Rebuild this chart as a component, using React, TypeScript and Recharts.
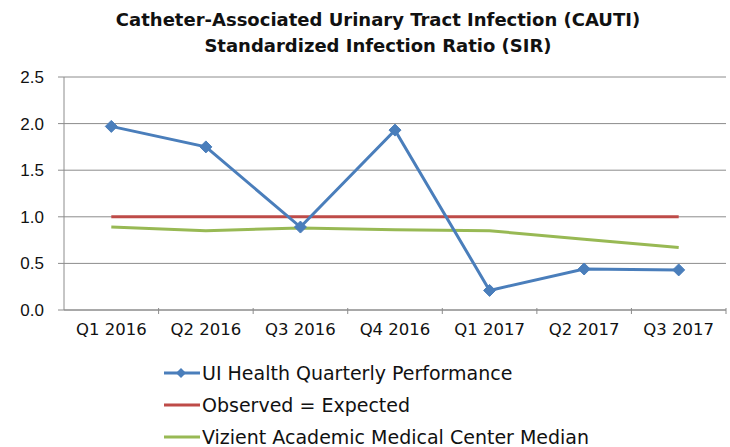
import React from 'react';
import { LineChart, Line, XAxis, YAxis, CartesianGrid } from 'recharts';

const quarters = ['Q1 2016', 'Q2 2016', 'Q3 2016', 'Q4 2016', 'Q1 2017', 'Q2 2017', 'Q3 2017'];
const uiHealth = [1.97, 1.75, 0.89, 1.93, 0.21, 0.44, 0.43];
const expected = [1, 1, 1, 1, 1, 1, 1];
const vizient = [0.89, 0.85, 0.88, 0.86, 0.85, 0.76, 0.67];
const yTicks = [0, 0.5, 1, 1.5, 2, 2.5];

const data = quarters.map((q, i) => ({
  name: q,
  ui: uiHealth[i],
  exp: expected[i],
  viz: vizient[i],
}));

const BLUE = '#4a7ebb';
const RED = '#be4b48';
const GREEN = '#98b954';
const AXIS = '#8c8c8c';
const labelFont = "'DejaVu Sans', sans-serif";
const HALF_BAND = 47.3;

const Diamond = (props: any) => {
  const { cx, cy } = props;
  if (cx == null || cy == null) return null;
  const r = 6;
  return (
    <polygon
      points={`${cx},${cy - r} ${cx + r},${cy} ${cx},${cy + r} ${cx - r},${cy}`}
      fill={BLUE}
      stroke={BLUE}
    />
  );
};

// category label plus a tick mark on the band boundary to its right
const QuarterTick = (props: any) => {
  const { x, y, payload } = props;
  const axisY = y - 10;
  return (
    <g>
      <line x1={x + HALF_BAND} y1={axisY} x2={x + HALF_BAND} y2={axisY + 6} stroke={AXIS} />
      <text x={x} y={y + 17} textAnchor="middle" fill="#111" fontSize={16.5} fontFamily={labelFont}>
        {payload.value}
      </text>
    </g>
  );
};

const legendItems = [
  { label: 'UI Health Quarterly Performance', color: BLUE, marker: true },
  { label: 'Observed = Expected', color: RED, marker: false },
  { label: 'Vizient Academic Medical Center Median', color: GREEN, marker: false },
];

export default function App() {
  return (
    <div style={{ position: 'absolute', left: 0, top: 0, width: 730, height: 447, background: '#fff' }}>
      <div
        style={{
          position: 'absolute',
          left: 0,
          top: 7,
          width: 756,
          textAlign: 'center',
          fontFamily: labelFont,
          fontWeight: 700,
          fontSize: 18,
          lineHeight: '26px',
          color: '#111',
        }}
      >
        Catheter-Associated Urinary Tract Infection (CAUTI)
        <br />
        Standardized Infection Ratio (SIR)
      </div>
      <LineChart width={730} height={447} data={data} margin={{ top: 77, right: 4, left: 0, bottom: 107 }}>
        <CartesianGrid vertical={false} stroke={AXIS} strokeWidth={1} />
        <XAxis
          dataKey="name"
          height={30}
          stroke={AXIS}
          tickLine={false}
          padding={{ left: HALF_BAND, right: HALF_BAND }}
          interval={0}
          tick={<QuarterTick />}
        />
        <YAxis
          width={64}
          domain={[0, 2.5]}
          ticks={yTicks}
          tickFormatter={(v: number) => v.toFixed(1)}
          stroke={AXIS}
          tickSize={6}
          tickMargin={14}
          tick={{ fill: '#111', fontSize: 17, fontFamily: "'Liberation Sans', sans-serif" }}
        />
        <Line dataKey="exp" stroke={RED} strokeWidth={3} dot={false} isAnimationActive={false} />
        <Line dataKey="viz" stroke={GREEN} strokeWidth={3} dot={false} isAnimationActive={false} />
        <Line dataKey="ui" stroke={BLUE} strokeWidth={3} dot={<Diamond />} activeDot={false} isAnimationActive={false} />
      </LineChart>
      <div
        style={{
          position: 'absolute',
          left: 164,
          top: 357,
          fontFamily: labelFont,
          fontSize: 19,
          color: '#111',
        }}
      >
        {legendItems.map((it) => (
          <div key={it.label} style={{ display: 'flex', alignItems: 'center', height: 32 }}>
            <svg width={37} height={14} style={{ marginRight: 1 }}>
              <line x1={0} y1={7} x2={36} y2={7} stroke={it.color} strokeWidth={3} />
              {it.marker && <polygon points="17,2 22,7 17,12 12,7" fill={it.color} />}
            </svg>
            <span>{it.label}</span>
          </div>
        ))}
      </div>
    </div>
  );
}
